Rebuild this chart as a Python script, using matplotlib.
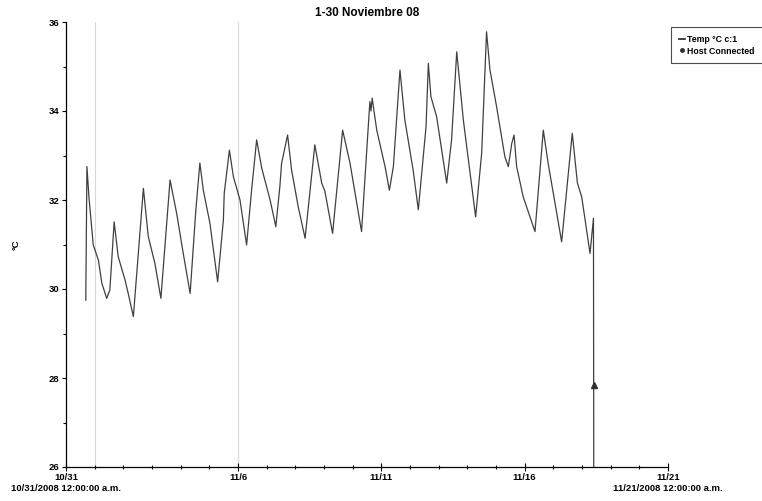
import numpy as np
import matplotlib as mpl
mpl.use("Agg")
import matplotlib.pyplot as plt
from matplotlib.lines import Line2D
from matplotlib.ticker import MultipleLocator, FixedLocator

# -- DATA ---------------------------------------------------------------------
# days since 10/31/2008 00:00
days = [0.69, 0.73, 0.80, 0.95, 1.13, 1.25, 1.42, 1.53, 1.68, 1.82,
        2.06, 2.17, 2.35, 2.70, 2.87, 3.10, 3.31, 3.63, 3.86, 4.09,
        4.33, 4.53, 4.67, 4.79, 5.02, 5.29, 5.49, 5.52, 5.70, 5.84,
        6.07, 6.30, 6.48, 6.65, 6.83, 7.12, 7.32, 7.46, 7.52, 7.73,
        7.87, 8.10, 8.34, 8.68, 8.92, 9.03, 9.30, 9.65, 9.91, 10.31,
        10.60, 10.64, 10.68, 10.84, 11.13, 11.28, 11.42, 11.65, 11.82, 12.11,
        12.29, 12.56, 12.64, 12.73, 12.93, 13.28, 13.45, 13.63, 13.86, 14.29,
        14.50, 14.67, 14.79, 15.02, 15.31, 15.43, 15.55, 15.63, 15.72, 15.95,
        16.36, 16.65, 16.82, 17.29, 17.66, 17.84, 17.99, 18.28, 18.40, 18.41]
temp = [29.75, 32.75, 32.07, 30.99, 30.65, 30.13, 29.79, 29.98, 31.51, 30.73,
        30.20, 29.90, 29.38, 32.26, 31.18, 30.58, 29.79, 32.45, 31.70, 30.80,
        29.90, 31.78, 32.83, 32.22, 31.48, 30.16, 31.55, 32.15, 33.12, 32.52,
        32.00, 30.99, 32.26, 33.35, 32.71, 32.00, 31.40, 32.30, 32.82, 33.46,
        32.67, 31.85, 31.14, 33.24, 32.38, 32.20, 31.25, 33.57, 32.82, 31.29,
        34.21, 34.00, 34.29, 33.57, 32.75, 32.22, 32.75, 34.92, 33.80, 32.67,
        31.78, 33.65, 35.07, 34.32, 33.87, 32.38, 33.35, 35.33, 33.80, 31.62,
        33.05, 35.78, 34.92, 34.10, 32.97, 32.75, 33.27, 33.46, 32.75, 32.07,
        31.29, 33.57, 32.82, 31.06, 33.50, 32.38, 32.07, 30.80, 31.59, 26.00]

host_day = [18.41]
host_temp = [27.84]

tick_days = [0, 6, 11, 16, 21]
tick_labels = ["10/31\n10/31/2008 12:00:00 a.m.", "11/6", "11/11", "11/16",
               "11/21\n11/21/2008 12:00:00 a.m."]
grid_days = [1, 6]

# -- STYLE --------------------------------------------------------------------
mpl.rcParams.update({
    'font.family': ['Liberation Sans', 'DejaVu Sans'],
    'font.weight': 'bold',
    'font.size': 6.8,
    'axes.linewidth': 0.9,
})

fig = plt.figure(figsize=(7.62, 5.01), dpi=100)
ax = fig.add_axes([66/762, 1-467/501, (668-66)/762, (467-22)/501])

for d in grid_days:
    ax.axvline(d, color='#d8d8d8', lw=0.8, zorder=0)

ax.plot(days, temp, color='#404040', lw=0.9)
ax.plot(host_day, host_temp, ls='none', marker='^', ms=4, color='#303030')

ax.set_xlim(0, 21)
ax.set_ylim(26, 36)
ax.xaxis.set_major_locator(FixedLocator(tick_days))
ax.set_xticklabels(tick_labels, fontsize=6.8, fontweight='bold', linespacing=1.3)
ax.xaxis.set_minor_locator(MultipleLocator(1))
ax.yaxis.set_major_locator(MultipleLocator(2))
ax.yaxis.set_minor_locator(MultipleLocator(1))
ax.tick_params(axis='x', which='major', direction='inout', length=6, width=0.8, pad=1)
ax.tick_params(axis='x', which='minor', direction='inout', length=3, width=0.8)
ax.tick_params(axis='y', which='major', direction='out', length=3, width=0.8, pad=2)
ax.tick_params(axis='y', which='minor', direction='out', length=2, width=0.8)
for lab in ax.get_yticklabels():
    lab.set_fontweight('bold')
ax.spines['top'].set_visible(False)
ax.spines['right'].set_visible(False)

ax.set_ylabel('\u00b0C', fontsize=6.8, fontweight='bold')
ax.yaxis.set_label_coords(-0.076, 0.5)
ax.set_title('1-30 Noviembre 08', fontsize=8.5, fontweight='bold', pad=4)

handles = [Line2D([], [], color='#202020', lw=1.2),
           Line2D([], [], ls='none', marker='o', ms=2.5, color='#303030')]
leg = fig.legend(handles, ['Temp \u00b0C c:1', 'Host Connected'],
                 loc='upper left', bbox_to_anchor=(671/762, 1-27/501),
                 frameon=True, fancybox=False, edgecolor='#202020',
                 fontsize=6.3, handlelength=0.7, handletextpad=0.25,
                 borderpad=0.9, labelspacing=0.3, borderaxespad=0)
leg.get_frame().set_linewidth(0.8)

plt.savefig('out.png', dpi=100)
